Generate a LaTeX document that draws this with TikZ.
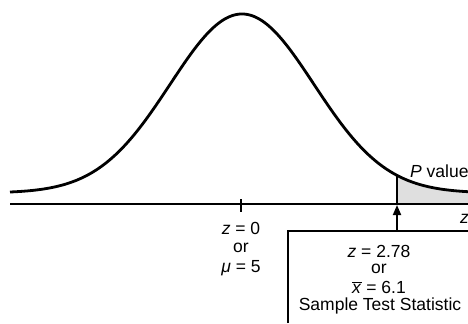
\documentclass[tikz,border=0pt]{standalone}
\usepackage{fontspec}
\setmainfont{Liberation Sans}
\usetikzlibrary{arrows.meta}
\begin{document}
\begin{tikzpicture}[x=1bp,y=-1bp,
  lbl/.style={inner sep=0pt, font=\fontsize{17.5bp}{20bp}\selectfont, anchor=center},
  thick curve/.style={line width=2.8bp},
  axisline/.style={line width=1.8bp}]
\useasboundingbox (0,0) rectangle (468,323);
% shaded tail
\fill[gray!25] (397,204) -- plot[domain=397:468, samples=60] (\x, {193-179*exp(-((\x-242)/72)^2/2)}) -- (468,204) -- cycle;
% density curve
\draw[thick curve, line join=round] plot[domain=10:468, samples=240] (\x, {193-179*exp(-((\x-242)/72)^2/2)});
% axis
\coordinate (axL) at (10,204);
\coordinate (axR) at (468,204);
\draw[axisline] (axL) -- (axR);
% tick at mean
\coordinate (tkT) at (241,199);
\coordinate (tkB) at (241,212);
\draw[axisline] (tkT) -- (tkB);
% tail boundary
\coordinate (tailT) at (397,175.4);
\coordinate (tailB) at (397,204);
\draw[axisline] (tailT) -- (tailB);
% box
\coordinate (boxBL) at (288,323);
\coordinate (boxTL) at (288,231);
\coordinate (boxTR) at (468,231);
\draw[axisline] (boxBL) -- (boxTL) -- (boxTR);
% arrow
\coordinate (arB) at (397,231);
\coordinate (arT) at (397,205);
\draw[axisline, -{Triangle[length=10bp,width=8bp]}] (arB) -- (arT);
% labels
\node[lbl] (z0) at (241,228) {\textit{z} = 0};
\node[lbl] (or1) at (241,248) {or};
\node[lbl] (mu) at (241,268) {\textit{μ} = 5};
\node[lbl] (z278) at (379,251) {\textit{z} = 2.78};
\node[lbl] (or2) at (379,269) {or};
\node[lbl] (xbar) at (379,287) {$\overline{\mbox{\textit{x}}}$ = 6.1};
\node[lbl] (sts) at (380,306) {Sample Test Statistic};
\node[lbl, anchor=west] (pval) at (410,171) {\textit{P} value};
\node[lbl, anchor=west] (zr) at (460,219) {\textit{z}};
\end{tikzpicture}
\end{document}
